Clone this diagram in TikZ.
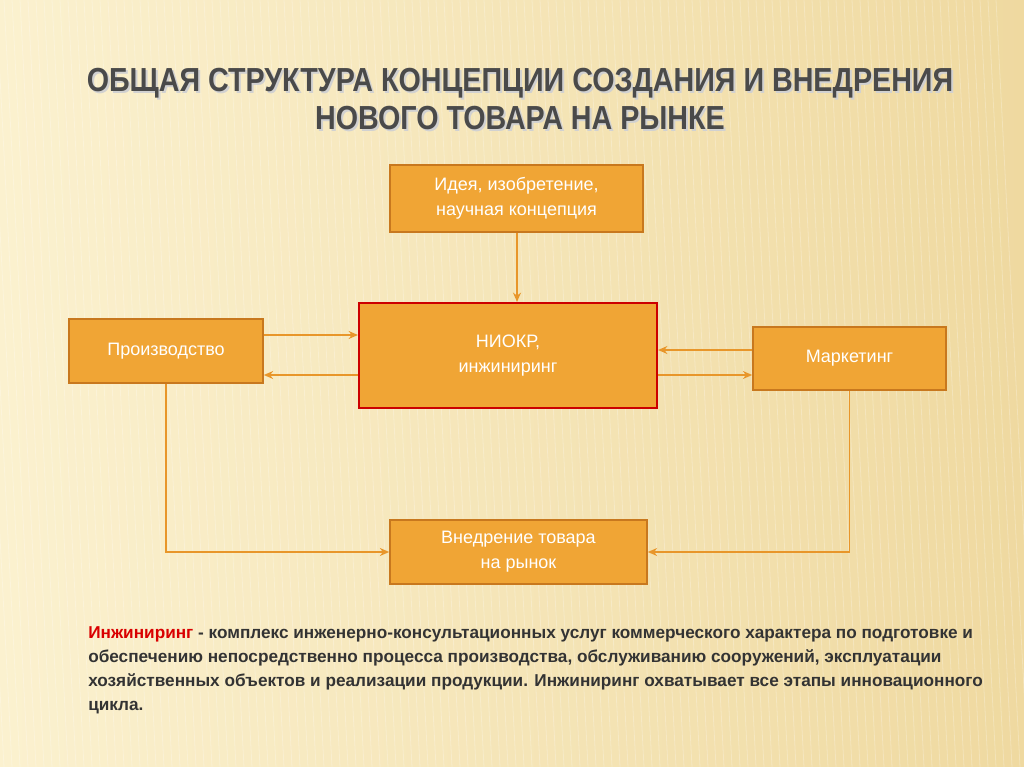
\documentclass[tikz,border=0pt]{standalone}
\usepackage{fontspec}
\setmainfont{Liberation Sans}
\usetikzlibrary{arrows.meta,shadows}
\definecolor{bgA}{HTML}{FBF1CF}
\definecolor{bgB}{HTML}{EFD9A0}
\definecolor{boxfill}{HTML}{F0A535}
\definecolor{boxline}{HTML}{C8781E}
\definecolor{arr}{HTML}{E8962A}
\definecolor{titlec}{HTML}{4A4A4A}
\tikzset{
 box/.style={draw=boxline,line width=1.2pt,fill=boxfill,text=white,font=\fontsize{13.5}{19}\selectfont,align=center,inner sep=0pt},
 con/.style={draw=arr,line width=1pt,-{Stealth[length=7pt,width=6pt]}},
 ttl/.style={align=center,font=\bfseries\fontsize{25}{28.5}\selectfont,xscale=0.86},
}
\begin{document}
\begin{tikzpicture}[x=0.75pt,y=-0.75pt]
\shade[left color=bgA,right color=bgB] (0,0) rectangle (1024,767);
\useasboundingbox (0,0) rectangle (1024,767);
\foreach \i in {0,8,...,1100}{\draw[white,opacity=0.25,line width=0.6pt] (\i-100,0) -- (\i-60,767);}
\node[ttl,text=black!18] at (522,101) {ОБЩАЯ СТРУКТУРА КОНЦЕПЦИИ СОЗДАНИЯ И ВНЕДРЕНИЯ\\НОВОГО ТОВАРА НА РЫНКЕ};
\node[ttl,text=titlec] (title) at (520,99) {ОБЩАЯ СТРУКТУРА КОНЦЕПЦИИ СОЗДАНИЯ И ВНЕДРЕНИЯ\\НОВОГО ТОВАРА НА РЫНКЕ};
\node[box,minimum width=253*0.75pt,minimum height=67*0.75pt] (idea) at (516.5,198.5) {Идея, изобретение,\\научная концепция};
\node[box,draw=red!80!black,line width=1.6pt,minimum width=298*0.75pt,minimum height=105*0.75pt] (niokr) at (508,355.5) {НИОКР,\\инжиниринг};
\node[box,minimum width=194*0.75pt,minimum height=64*0.75pt] (prod) at (166,351) {Производство};
\node[box,minimum width=193*0.75pt,minimum height=63*0.75pt] (mark) at (849.5,358.5) {Маркетинг};
\node[box,minimum width=257*0.75pt,minimum height=64*0.75pt] (vn) at (518.5,552) {Внедрение товара\\на рынок};
\draw[con] (idea.south-|517,0) -- (niokr.north-|517,0);
\draw[con] (prod.east|-0,335) -- (niokr.west|-0,335);
\draw[con] (niokr.west|-0,375) -- (prod.east|-0,375);
\draw[con] (mark.west|-0,350) -- (niokr.east|-0,350);
\draw[con] (niokr.east|-0,375) -- (mark.west|-0,375);
\draw[con] (prod.south) |- (vn.west);
\draw[con] (mark.south) |- (vn.east);
\node[anchor=north west,align=left,text=black!80,font=\bfseries\fontsize{12.9}{18}\selectfont,inner sep=0pt] (txt) at (88,626) {\textcolor{red!85!black}{Инжиниринг} - комплекс инженерно-консультационных услуг коммерческого характера по подготовке и\\обеспечению непосредственно процесса производства, обслуживанию сооружений, эксплуатации\\хозяйственных объектов и реализации продукции. Инжиниринг охватывает все этапы инновационного\\цикла.};
\end{tikzpicture}
\end{document}
